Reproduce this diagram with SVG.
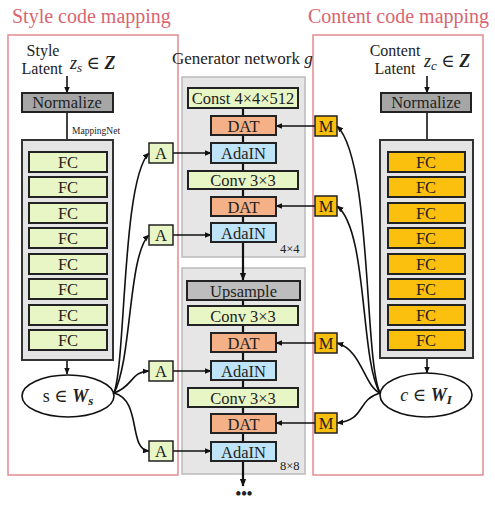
<svg xmlns="http://www.w3.org/2000/svg" width="495" height="514" viewBox="0 0 495 514" font-family="'Liberation Serif', 'Times New Roman', 'DejaVu Serif', serif">
<defs>
<style>
text{font-family:'Liberation Serif','Times New Roman','DejaVu Serif',serif;fill:#222}
.t{font-size:16.5px;text-anchor:middle}
.title{font-size:20px;fill:#d9656f}
.red{fill:none;stroke:#e38c92;stroke-width:1.5}
.cont{fill:#e4e4e4;stroke:#333;stroke-width:2}
.gcont{fill:#e6e6e6;stroke:#bbb;stroke-width:1.5}
.fcg{fill:#e8f5c4;stroke:#222;stroke-width:2}
.fco{fill:#fbbf0e;stroke:#222;stroke-width:2}
.ada{fill:#bfe4f7;stroke:#222;stroke-width:2}
.dat{fill:#f4b187;stroke:#222;stroke-width:2}
.norm{fill:#a6a6a6;stroke:#222;stroke-width:2}
.ups{fill:#bdbdbd;stroke:#222;stroke-width:2}
.m{fill:#fbbf0e;stroke:#222;stroke-width:1.5}
.a{fill:#e8f5c4;stroke:#222;stroke-width:1.5}
.ln{fill:none;stroke:#111;stroke-width:1.6}
.ln2{fill:none;stroke:#111;stroke-width:2.2}
</style>
<marker id="ah" viewBox="0 0 10 10" refX="9" refY="5" markerWidth="7" markerHeight="7" orient="auto-start-reverse" markerUnits="userSpaceOnUse">
<path d="M0,1 L10,5 L0,9 Z" fill="#111"/>
</marker>
<marker id="ah2" viewBox="0 0 10 10" refX="9" refY="5" markerWidth="8" markerHeight="8" orient="auto" markerUnits="userSpaceOnUse">
<path d="M0,1 L10,5 L0,9 Z" fill="#111"/>
</marker>
</defs>
<rect width="495" height="514" fill="#fff"/>

<g id="titles">
<text class="title" x="12" y="23">Style code mapping</text>
<text class="title" x="308" y="23">Content code mapping</text>
</g>
<rect class="red" x="8" y="35" width="170" height="440"/>
<rect class="red" x="313" y="35" width="170" height="440"/>

<g id="generator-label">
<text x="172" y="64" font-size="17">Generator network <tspan font-style="italic">g</tspan></text>
</g>
<rect class="gcont" x="182" y="77" width="123" height="180"/>
<rect class="gcont" x="182" y="268" width="123" height="206"/>

<g id="connectors">
<line class="ln" x1="67" y1="76" x2="67" y2="93" marker-end="url(#ah)"/>
<line class="ln" x1="67" y1="112" x2="67" y2="152" marker-end="url(#ah)"/>
<line class="ln" x1="67" y1="172" x2="67" y2="330"/>
<line class="ln" x1="67" y1="350" x2="67" y2="374" marker-end="url(#ah)"/>
<line class="ln" x1="427" y1="76" x2="427" y2="93" marker-end="url(#ah)"/>
<line class="ln" x1="427" y1="112" x2="427" y2="152" marker-end="url(#ah)"/>
<line class="ln" x1="427" y1="172" x2="427" y2="330"/>
<line class="ln" x1="427" y1="350" x2="427" y2="373" marker-end="url(#ah)"/>
<line class="ln2" x1="243" y1="108" x2="243" y2="223"/>
<line class="ln2" x1="243" y1="242" x2="243" y2="280" marker-end="url(#ah2)"/>
<line class="ln2" x1="243" y1="300" x2="243" y2="442"/>
<line class="ln2" x1="243" y1="461" x2="243" y2="486" marker-end="url(#ah2)"/>
<line class="ln" x1="173" y1="153" x2="211" y2="153" marker-end="url(#ah)"/>
<line class="ln" x1="173" y1="235" x2="211" y2="235" marker-end="url(#ah)"/>
<line class="ln" x1="173" y1="371" x2="211" y2="371" marker-end="url(#ah)"/>
<line class="ln" x1="173" y1="451" x2="211" y2="451" marker-end="url(#ah)"/>
<line class="ln" x1="315" y1="126" x2="276" y2="126" marker-end="url(#ah)"/>
<line class="ln" x1="315" y1="206" x2="276" y2="206" marker-end="url(#ah)"/>
<line class="ln" x1="315" y1="343" x2="276" y2="343" marker-end="url(#ah)"/>
<line class="ln" x1="315" y1="423" x2="276" y2="423" marker-end="url(#ah)"/>
<path class="ln" d="M114,393 C126,360 122,180 149,153" marker-end="url(#ah)"/>
<path class="ln" d="M114,393 C132,360 128,255 149,235" marker-end="url(#ah)"/>
<path class="ln" d="M114,393 C134,386 130,372 149,371" marker-end="url(#ah)"/>
<path class="ln" d="M114,393 C142,400 128,450 149,451" marker-end="url(#ah)"/>
<path class="ln" d="M380,393 C364,360 372,160 337,126" marker-end="url(#ah)"/>
<path class="ln" d="M380,393 C360,360 368,230 337,206" marker-end="url(#ah)"/>
<path class="ln" d="M380,393 C364,386 362,350 337,343" marker-end="url(#ah)"/>
<path class="ln" d="M380,393 C356,400 366,420 337,423" marker-end="url(#ah)"/>
</g>

<g id="style-latent">
<text x="43" y="56" font-size="16" text-anchor="middle">Style</text>
<text x="42" y="74" font-size="16" text-anchor="middle">Latent</text>
<text x="70" y="69" font-size="18"><tspan font-style="italic">z</tspan><tspan font-style="italic" font-size="13" dy="3">s</tspan><tspan dy="-3"> ∈ </tspan><tspan font-style="italic" font-weight="bold">Z</tspan></text>
</g>
<g id="style-normalize">
<rect class="norm" x="22" y="93" width="91" height="19"/>
<text class="t" x="67" y="108">Normalize</text>
</g>
<g id="mapping-net-style">
<text x="72" y="134" font-size="9.5" fill="#444">MappingNet</text>
<rect class="cont" x="22" y="140" width="91" height="220"/>
<rect class="fcg" x="29" y="152" width="78" height="20"/><text class="t" x="68" y="168">FC</text>
<rect class="fcg" x="29" y="177" width="78" height="20"/><text class="t" x="68" y="193">FC</text>
<rect class="fcg" x="29" y="203" width="78" height="20"/><text class="t" x="68" y="219">FC</text>
<rect class="fcg" x="29" y="228" width="78" height="20"/><text class="t" x="68" y="244">FC</text>
<rect class="fcg" x="29" y="254" width="78" height="20"/><text class="t" x="68" y="270">FC</text>
<rect class="fcg" x="29" y="279" width="78" height="20"/><text class="t" x="68" y="295">FC</text>
<rect class="fcg" x="29" y="305" width="78" height="20"/><text class="t" x="68" y="321">FC</text>
<rect class="fcg" x="29" y="330" width="78" height="20"/><text class="t" x="68" y="346">FC</text>
</g>
<g id="style-code">
<ellipse cx="68" cy="396" rx="46" ry="21" fill="#fff" stroke="#111" stroke-width="1.6"/>
<text x="68" y="402" font-size="18" text-anchor="middle">s ∈ <tspan font-style="italic" font-weight="bold">W</tspan><tspan font-style="italic" font-weight="bold" font-size="13" dy="3">s</tspan></text>
</g>

<g id="content-latent">
<text x="395" y="56" font-size="16" text-anchor="middle">Content</text>
<text x="395" y="74" font-size="16" text-anchor="middle">Latent</text>
<text x="424" y="67" font-size="18"><tspan font-style="italic">z</tspan><tspan font-style="italic" font-size="13" dy="3">c</tspan><tspan dy="-3"> ∈ </tspan><tspan font-style="italic" font-weight="bold">Z</tspan></text>
</g>
<g id="content-normalize">
<rect class="norm" x="381" y="93" width="90" height="19"/>
<text class="t" x="426" y="108">Normalize</text>
</g>
<g id="mapping-net-content">
<rect class="cont" x="380" y="140" width="93" height="218"/>
<rect class="fco" x="388" y="152" width="77" height="20"/><text class="t" x="426" y="168">FC</text>
<rect class="fco" x="388" y="177" width="77" height="20"/><text class="t" x="426" y="193">FC</text>
<rect class="fco" x="388" y="203" width="77" height="20"/><text class="t" x="426" y="219">FC</text>
<rect class="fco" x="388" y="228" width="77" height="20"/><text class="t" x="426" y="244">FC</text>
<rect class="fco" x="388" y="254" width="77" height="20"/><text class="t" x="426" y="270">FC</text>
<rect class="fco" x="388" y="279" width="77" height="20"/><text class="t" x="426" y="295">FC</text>
<rect class="fco" x="388" y="305" width="77" height="20"/><text class="t" x="426" y="321">FC</text>
<rect class="fco" x="388" y="330" width="77" height="20"/><text class="t" x="426" y="346">FC</text>
</g>
<g id="content-code">
<ellipse cx="426" cy="395" rx="46" ry="22" fill="#fff" stroke="#111" stroke-width="1.6"/>
<text x="426" y="401" font-size="18" text-anchor="middle"><tspan font-style="italic">c</tspan> ∈ <tspan font-style="italic" font-weight="bold">W</tspan><tspan font-style="italic" font-weight="bold" font-size="13" dy="3">I</tspan></text>
</g>

<g id="A-boxes">
<rect class="a" x="149" y="143" width="24" height="20"/><text class="t" x="161" y="159">A</text>
<rect class="a" x="149" y="225" width="24" height="20"/><text class="t" x="161" y="241">A</text>
<rect class="a" x="149" y="361" width="24" height="20"/><text class="t" x="161" y="377">A</text>
<rect class="a" x="149" y="441" width="24" height="20"/><text class="t" x="161" y="457">A</text>
</g>
<g id="M-boxes">
<rect class="m" x="315" y="116" width="22" height="20"/><text class="t" x="326" y="132">M</text>
<rect class="m" x="315" y="196" width="22" height="20"/><text class="t" x="326" y="212">M</text>
<rect class="m" x="315" y="333" width="22" height="20"/><text class="t" x="326" y="349">M</text>
<rect class="m" x="315" y="413" width="22" height="20"/><text class="t" x="326" y="429">M</text>
</g>

<g id="block-4x4">
<rect class="fcg" x="188" y="88" width="110" height="20"/><text class="t" x="243" y="104">Const 4×4×512</text>
<rect class="dat" x="211" y="116" width="65" height="19"/><text class="t" x="243.5" y="131.5">DAT</text>
<rect class="ada" x="211" y="143" width="65" height="20"/><text class="t" x="243.5" y="159">AdaIN</text>
<rect class="fcg" x="188" y="171" width="110" height="18"/><text class="t" x="243" y="186">Conv 3×3</text>
<rect class="dat" x="211" y="197" width="65" height="19"/><text class="t" x="243.5" y="212.5">DAT</text>
<rect class="ada" x="211" y="223" width="65" height="19"/><text class="t" x="243.5" y="238.5">AdaIN</text>
<text x="280" y="253" font-size="12.5">4×4</text>
</g>
<g id="block-8x8">
<rect class="ups" x="187" y="281" width="113" height="19"/><text class="t" x="243.5" y="296.5">Upsample</text>
<rect class="fcg" x="188" y="306" width="110" height="19"/><text class="t" x="243" y="321.5">Conv 3×3</text>
<rect class="dat" x="211" y="333" width="65" height="19"/><text class="t" x="243.5" y="348.5">DAT</text>
<rect class="ada" x="211" y="361" width="65" height="19"/><text class="t" x="243.5" y="376.5">AdaIN</text>
<rect class="fcg" x="188" y="388" width="110" height="19"/><text class="t" x="243" y="403.5">Conv 3×3</text>
<rect class="dat" x="211" y="414" width="65" height="19"/><text class="t" x="243.5" y="429.5">DAT</text>
<rect class="ada" x="211" y="442" width="65" height="19"/><text class="t" x="243.5" y="457.5">AdaIN</text>
<text x="280" y="470" font-size="12.5">8×8</text>
</g>
<g id="ellipsis">
<text x="244" y="499" font-size="16" text-anchor="middle" font-weight="bold">•••</text>
</g>
</svg>
